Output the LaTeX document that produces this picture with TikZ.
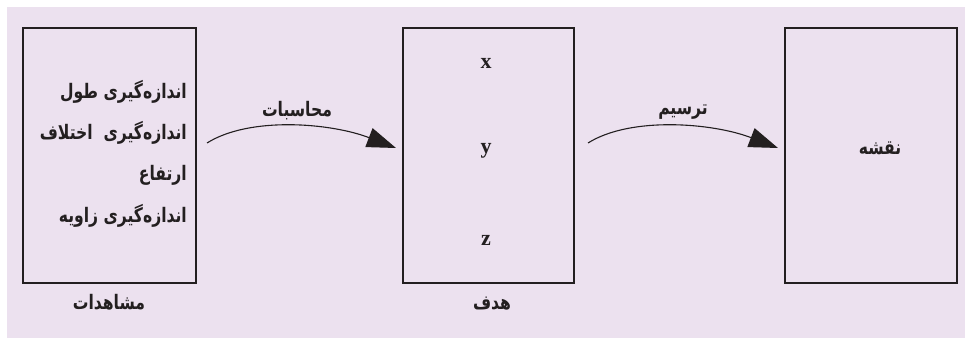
\documentclass[tikz,border=0pt]{standalone}
\usepackage{fontspec}
\setmainfont{Liberation Serif}
\newfontfamily\arabicfont[Script=Arabic, FakeStretch=0.78]{DejaVu Sans}
\TeXXeTstate=1
\usetikzlibrary{arrows.meta}
\definecolor{bgc}{RGB}{236,225,239}
\definecolor{ink}{RGB}{35,31,32}
\newcommand{\fa}[1]{{\arabicfont\bfseries\beginR #1\endR}}
\begin{document}
\begin{tikzpicture}[x=1pt,y=-1pt,
 box/.style={draw=ink, line width=1.5pt, minimum height=255pt, inner sep=0pt},
 fatext/.style={text=ink, inner sep=0pt, font=\fontsize{20}{24}\selectfont},
 latin/.style={text=ink, inner sep=0pt, font=\fontsize{22}{24}\selectfont\bfseries},
 conn/.style={draw=ink, line width=1.1pt, -{Triangle[length=29pt,width=20pt]}}]
\useasboundingbox (0,0) rectangle (965,338);
\fill[bgc] (7,7) rectangle (965,338);
% boxes
\node[box, minimum width=173pt] (obs) at (109.5,155.5) {};
\node[box, minimum width=171pt] (target) at (488.5,155.5) {};
\node[box, minimum width=172pt] (map) at (871,155.5) {};
% box 1 text
\node[fatext, anchor=base east] (l1) at (187,98) {\fa{اندازه^^^^200cگیری طول}};
\node[fatext, anchor=base east] (l2) at (187,139) {\fa{اندازه^^^^200cگیری\ \ اختلاف}};
\node[fatext, anchor=base east] (l3) at (187,180) {\fa{ارتفاع}};
\node[fatext, anchor=base east] (l4) at (187,222) {\fa{اندازه^^^^200cگیری زاویه}};
% box 2 text
\node[latin] (vx) at (486,63) {x};
\node[latin] (vy) at (486,151) {y};
\node[latin] (vz) at (486,240) {z};
% box 3 text
\node[fatext, anchor=base] (nq) at (880,154) {\fa{نقشه}};
% captions
\node[fatext, anchor=base] (c1) at (109,309) {\fa{مشاهدات}};
\node[fatext, anchor=base] (c2) at (492,309) {\fa{هدف}};
% connectors
\coordinate (s1) at (207,143);
\coordinate (e1) at (396,148);
\coordinate (s2) at (588,143);
\coordinate (e2) at (778,148);
\draw[conn] (s1) .. controls +(43,-27) and +(-65,-25) .. (e1);
\draw[conn] (s2) .. controls +(43,-27) and +(-65,-25) .. (e2);
\node[fatext, anchor=base] (t1) at (297,116) {\fa{محاسبات}};
\node[fatext, anchor=base] (t2) at (683,114) {\fa{ترسیم}};
\end{tikzpicture}
\end{document}
